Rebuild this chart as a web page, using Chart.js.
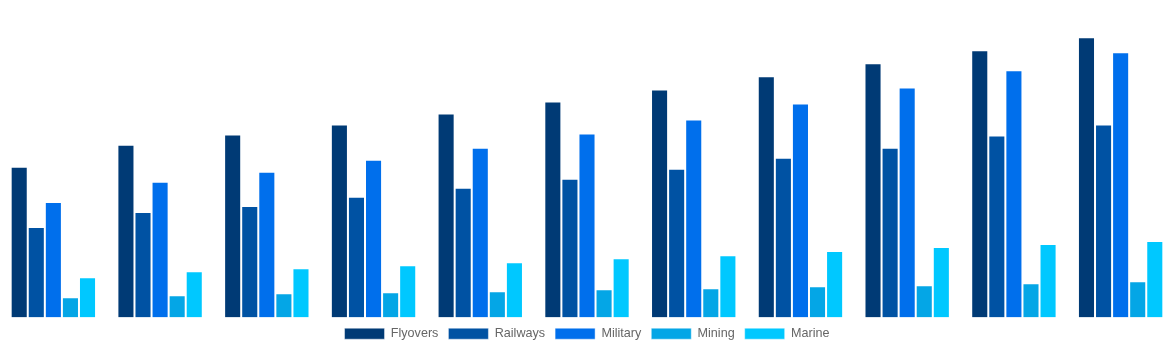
<!DOCTYPE html>
<html>
<head>
<meta charset="utf-8">
<script src="https://cdn.jsdelivr.net/npm/chart.js@4/dist/chart.umd.min.js"></script>
<style>
  html, body { margin: 0; padding: 0; background: #fff; }
  #wrap { width: 1174px; height: 350px; position: relative; }
</style>
</head>
<body>
<div id="wrap"><canvas id="barChart"></canvas></div>
<script>
// Chart data (category axis is hidden in the original)
const categories = ['2020', '2021', '2022', '2023', '2024', '2025', '2026', '2027', '2028', '2029', '2030'];
const flyovers = [150, 172, 182, 192, 203, 215, 227, 240, 253, 266, 279];
const railways = [90, 105, 111, 120, 129, 138, 148, 159, 169, 181, 192];
const military = [115, 135, 145, 157, 169, 183, 197, 213, 229, 246, 264];
const mining   = [20, 22, 24, 25, 26, 28, 29, 31, 32, 34, 36];
const marine   = [40, 46, 49, 52, 55, 59, 62, 66, 70, 73, 76];
const yMax = 316;

function series(label, data, color) {
    return {
        label: label,
        data: data,
        backgroundColor: color,
        borderColor: 'rgba(255, 255, 255, 0.45)',
        borderWidth: 1,
        categoryPercentage: 0.8,
        barPercentage: 1.0
    };
}

new Chart(document.getElementById('barChart').getContext('2d'), {
    type: 'bar',
    data: {
        labels: categories,
        datasets: [
            series('Flyovers', flyovers, '#003a75'),
            series('Railways', railways, '#0052a3'),
            series('Military', military, '#006fec'),
            series('Mining', mining, '#04a6e6'),
            series('Marine', marine, '#00c8ff')
        ]
    },
    options: {
        responsive: true,
        maintainAspectRatio: false,
        animation: false,
        layout: { padding: 0 },
        plugins: {
            legend: {
                position: 'bottom',
                labels: {
                    color: '#666',
                    font: { family: "'Helvetica Neue', Helvetica, Arial, sans-serif", size: 12.6, lineHeight: 1.0 },
                    boxWidth: 40,
                    boxHeight: 11,
                    padding: 10
                }
            },
            tooltip: { enabled: false }
        },
        scales: {
            x: { display: false },
            y: { display: false, min: 0, max: yMax }
        }
    }
});
</script>
</body>
</html>
